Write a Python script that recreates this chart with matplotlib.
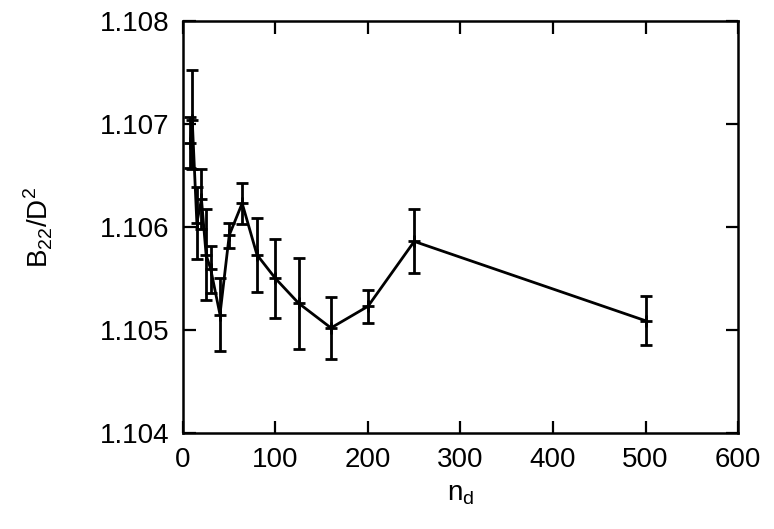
import matplotlib.pyplot as plt

plt.rcParams['font.family'] = ['Liberation Sans', 'DejaVu Sans']

# data
n_d = [8, 10, 15, 20, 25, 30, 40, 50, 64, 80, 100, 125, 160, 200, 250, 500]
b22 = [1.10682, 1.10704, 1.10604, 1.10627, 1.10573, 1.10559, 1.10515, 1.10592,
       1.10623, 1.10573, 1.10550, 1.10526, 1.10502, 1.10523, 1.10586, 1.10509]
err = [0.00025, 0.00048, 0.00035, 0.00029, 0.00044, 0.00023, 0.00035, 0.00012,
       0.00020, 0.00036, 0.00038, 0.00044, 0.00030, 0.00016, 0.00031, 0.00024]

x_ticks = [0, 100, 200, 300, 400, 500, 600]
y_ticks = [1.104, 1.105, 1.106, 1.107, 1.108]

fig = plt.figure(figsize=(7.74, 5.29), dpi=100)
ax = fig.add_axes([0.2364, 0.1815, 0.9535 - 0.2364, 0.9603 - 0.1815])

ax.errorbar(n_d, b22, yerr=err, color='black', lw=2.0, elinewidth=2.0,
            capsize=4.3, capthick=2.0, marker='+', markersize=8.5, mew=2.0)

ax.set_xlim(0, 600)
ax.set_ylim(1.104, 1.108)
ax.set_xticks(x_ticks)
ax.set_yticks(y_ticks)
ax.set_yticklabels(['%.3f' % v for v in y_ticks])
ax.tick_params(direction='in', length=9, width=1.6, top=True, right=True,
               labelsize=20, pad=10)
for s in ax.spines.values():
    s.set_linewidth(1.8)

ax.set_xlabel(r'n$_\mathregular{d}$', fontsize=20, labelpad=6)
ax.set_ylabel(r'B$_\mathregular{22}$/D$^\mathregular{2}$', fontsize=20, labelpad=32)

fig.savefig('out.png', dpi=100)
